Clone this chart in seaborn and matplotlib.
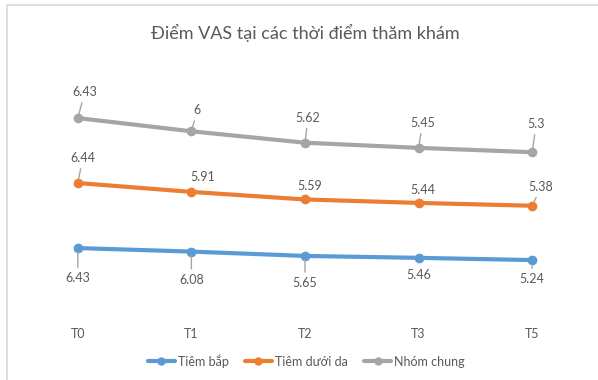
import numpy as np
import pandas as pd
import seaborn as sns
import matplotlib
matplotlib.use("Agg")
import matplotlib.pyplot as plt
from matplotlib.lines import Line2D

categories = ["T0", "T1", "T2", "T3", "T5"]
tiem_bap = [6.43, 6.08, 5.65, 5.46, 5.24]
tiem_duoi_da = [6.44, 5.91, 5.59, 5.44, 5.38]
nhom_chung = [6.43, 6.0, 5.62, 5.45, 5.3]
series_names = ["Tiêm bắp", "Tiêm dưới da", "Nhóm chung"]
colors = ["#5B9BD5", "#ED7D31", "#A5A5A5"]
title = "Điểm VAS tại các thời điểm thăm khám"

sns.set_theme(style="white")
plt.rcParams["font.family"] = ["Lato", "DejaVu Sans"]
TXT = "#595959"

W, H = 598, 380
fig = plt.figure(figsize=(W / 100, H / 100), dpi=100)
ax = fig.add_axes([21 / W, (H - 313) / H, (589 - 21) / W, (313 - 60.5) / H])

series = [tiem_bap, tiem_duoi_da, nhom_chung]
cum = np.cumsum(np.array(series, dtype=float), axis=0)  # stacked line chart
rows = []
for name, vals, c in zip(series_names, series, cum):
    for i, cat in enumerate(categories):
        rows.append({"cat": i, "stack": c[i], "val": vals[i], "series": name})
df = pd.DataFrame(rows)

sns.lineplot(data=df, x="cat", y="stack", hue="series", palette=colors,
             hue_order=series_names, marker="o", markersize=7,
             markeredgewidth=0, linewidth=3, ax=ax, legend=False)

ax.set_xlim(-0.5, len(categories) - 0.5)
ax.set_ylim(0, 25)
ax.set_xticks(range(len(categories)))
ax.set_xticklabels(categories, color=TXT, fontsize=9)
ax.tick_params(axis="x", length=0, pad=11)
ax.set_yticks([])
ax.set_xlabel("")
ax.set_ylabel("")
for s in ax.spines.values():
    s.set_visible(False)

# label offsets in pixels (dx, dy), and whether a leader line is drawn
offsets = [
    [((0, -30), True), ((0, -28), True), ((0, -27), True), ((0, -17), False), ((0, -19), True)],
    [((5, 25), True), ((11, 15), False), ((5, 13), False), ((4, 13), False), ((9, 19), True)],
    [((7, 26), True), ((6, 21), True), ((3, 25), True), ((4, 25), True), ((4, 28), True)],
]
for si, (vals, c) in enumerate(zip(series, cum)):
    for i in range(len(categories)):
        (dx, dy), lead = offsets[si][i]
        kw = {}
        if lead:
            kw["arrowprops"] = dict(arrowstyle="-", color="#A6A6A6", lw=1,
                                    shrinkA=1, shrinkB=3)
        ax.annotate(f"{vals[i]:g}", xy=(i, c[i]), xytext=(dx, dy),
                    textcoords="offset pixels", ha="center", va="center",
                    fontsize=9, color=TXT, **kw)

fig.text(305 / W, 1 - 33 / H, title, ha="center", va="center",
         fontsize=13, color=TXT)

handles = [Line2D([], [], color=col, lw=3, marker="o", markersize=6,
                  markeredgewidth=0) for col in colors]
fig.legend(handles, series_names, loc="center", bbox_to_anchor=(306 / W, 1 - 361 / H),
           ncol=3, frameon=False, fontsize=9, labelcolor=TXT,
           handlelength=2.2, handletextpad=0.2, columnspacing=1.3)

fig.add_artist(Line2D([6.5 / W, 1], [1 - 4.5 / H, 1 - 4.5 / H],
                      transform=fig.transFigure, color="#D9D9D9", lw=1.2))
fig.add_artist(Line2D([6.5 / W, 6.5 / W], [0, 1 - 4.5 / H],
                      transform=fig.transFigure, color="#D9D9D9", lw=1.2))

fig.savefig("out.png", dpi=100, facecolor="white")
